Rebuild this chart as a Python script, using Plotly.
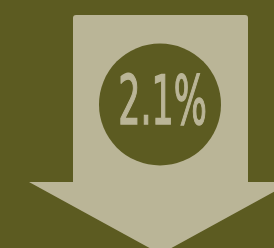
import plotly.graph_objects as go

value = 2.1
label = f"{value}%"

bg = "#5c5b21"
light = "#bab597"

W, H = 274, 248

fig = go.Figure()

# arrow shape (pixel coordinates, y downwards)
arrow_path = (
    "M 73,18 Q 73,15 76,15 L 245,15 Q 248,15 248,18 "
    "L 248,182 L 292,182 L 160.5,254 L 29,182 L 73,182 Z"
)
fig.add_shape(type="path", path=arrow_path, xref="x", yref="y",
              fillcolor=light, line=dict(width=0), layer="below")
fig.add_shape(type="circle", xref="x", yref="y",
              x0=160 - 61, x1=160 + 61, y0=104.5 - 61, y1=104.5 + 61,
              fillcolor=bg, line=dict(width=0), layer="below")

fig.add_trace(go.Scatter(x=[162.5], y=[107], mode="text", text=[label],
                         textfont=dict(family="DejaVu Sans Condensed, DejaVu Sans", size=68,
                                       color=light),
                         textposition="middle center", hoverinfo="skip", showlegend=False))

fig.update_layout(
    width=W, height=H, margin=dict(l=0, r=0, t=0, b=0),
    paper_bgcolor=bg, plot_bgcolor="rgba(0,0,0,0)",
    xaxis=dict(range=[0, W], visible=False, fixedrange=True),
    yaxis=dict(range=[H, 0], visible=False, fixedrange=True),
    showlegend=False,
)

post = (
    "document.body.style.margin='0';"
    "document.body.style.background='" + bg + "';"
    "document.querySelectorAll('.textpoint text').forEach(function(t){"
    "t.style.transformBox='fill-box';t.style.transformOrigin='center';"
    "t.style.transform='scaleX(0.57)';t.style.stroke='" + light + "';t.style.strokeWidth='1.5px';});"
)
fig.write_html("out.html", config={"displayModeBar": False}, post_script=post)
